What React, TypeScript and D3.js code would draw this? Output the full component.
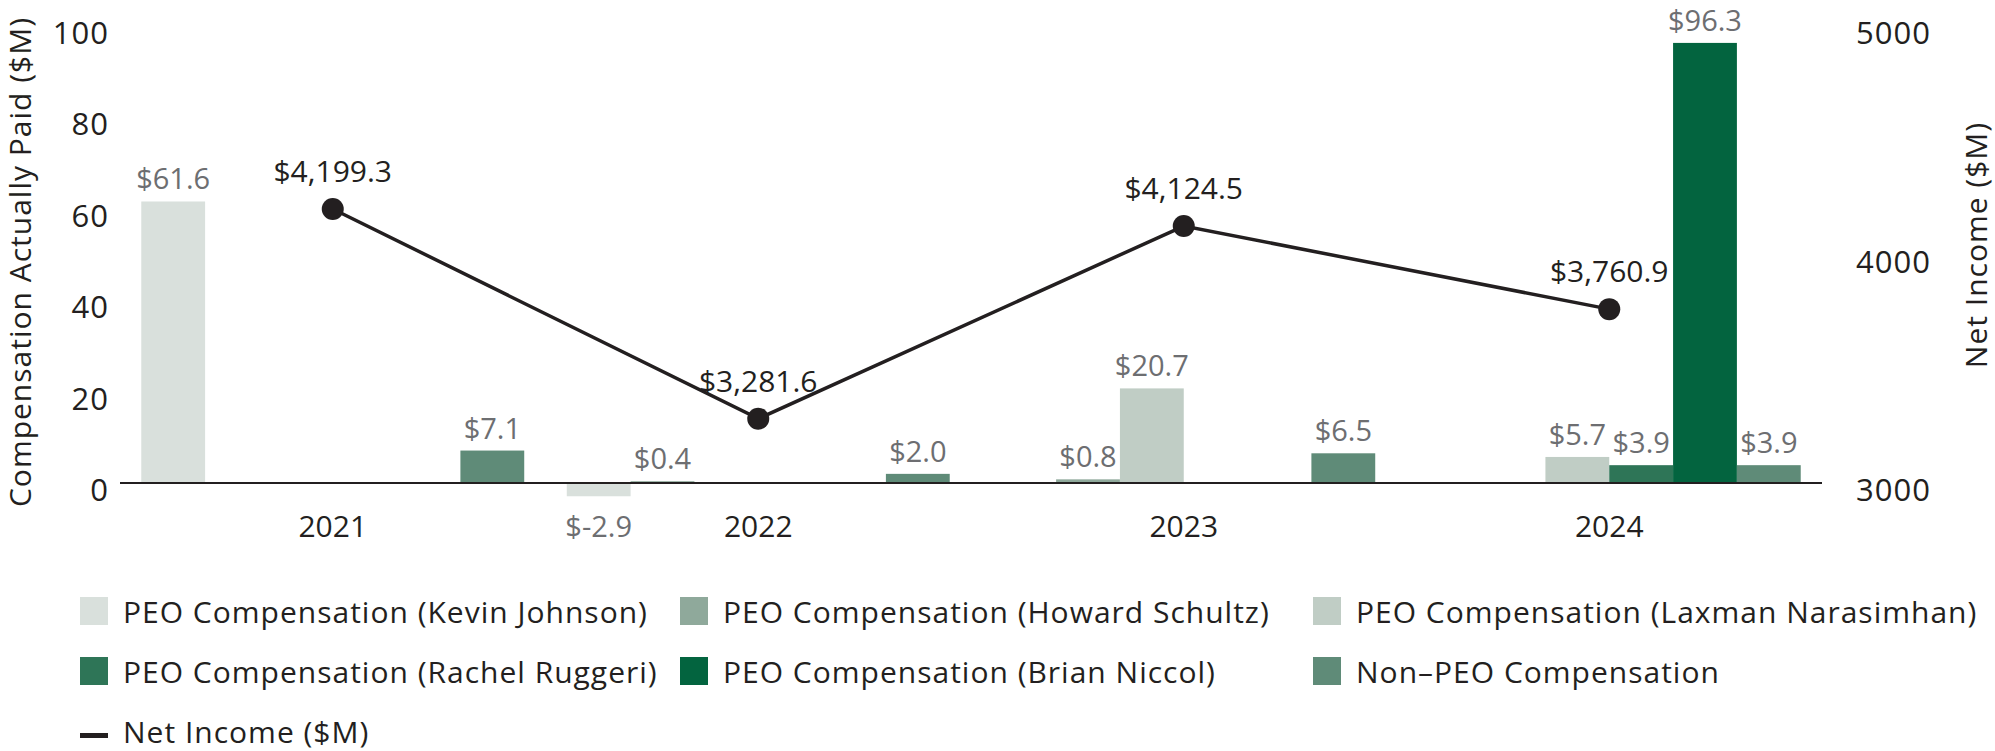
import * as d3 from "d3";

const years = ["2021", "2022", "2023", "2024"];

const seriesNames = [
  "PEO Compensation (Kevin Johnson)",
  "PEO Compensation (Howard Schultz)",
  "PEO Compensation (Laxman Narasimhan)",
  "PEO Compensation (Rachel Ruggeri)",
  "PEO Compensation (Brian Niccol)",
  "Non-PEO Compensation",
];
const seriesColors = ["#d9e0dc", "#8fa99b", "#c0cdc5", "#2e7557", "#03643f", "#5f8b78"];

const kevinJohnson = [61.6, -2.9, 0, 0];
const howardSchultz = [0, 0.4, 0.8, 0];
const laxmanNarasimhan = [0, 0, 20.7, 5.7];
const rachelRuggeri = [0, 0, 0, 3.9];
const brianNiccol = [0, 0, 0, 96.3];
const nonPeo = [7.1, 2.0, 6.5, 3.9];
const netIncome = [4199.3, 3281.6, 4124.5, 3760.9];

const leftTicks = [0, 20, 40, 60, 80, 100];
const rightTicks = [3000, 4000, 5000];

const seriesValues = [kevinJohnson, howardSchultz, laxmanNarasimhan, rachelRuggeri, brianNiccol, nonPeo];

const W = 1995;
const H = 751;
const FONT = "'Open Sans', 'Noto Sans', sans-serif";
const INK = "#231f20";
const GRAY = "#6d6e71";

export default function App() {
  const x = d3.scaleBand().domain(years).range([120, 1822]).paddingInner(0.1).paddingOuter(0.05);
  const xs = d3.scaleBand().domain(seriesNames).range([0, x.bandwidth()]);
  const y = d3.scaleLinear().domain([0, 100]).range([483, 26]);
  const yR = d3.scaleLinear().domain([3000, 5000]).range([483, 26]);
  const fmtBar = (v: number) => "$" + v.toFixed(1);
  const fmtNet = (v: number) => "$" + d3.format(",.1f")(v);

  const line = d3
    .line<number>()
    .x((_, i) => x(years[i])! + x.bandwidth() / 2)
    .y((d) => yR(d));

  // legend layout: 3 columns
  const legendCols = [80, 680, 1313];
  const legendRows = [623, 683, 743];

  return (
    <div style={{ position: "absolute", left: 0, top: 0 }}>
      <svg width={W} height={H} style={{ display: "block", fontFamily: FONT }}>
        <rect width={W} height={H} fill="#fff" />

        {/* bars */}
        {seriesValues.map((vals, si) =>
          vals.map((v, yi) => {
            const bx = x(years[yi])! + xs(seriesNames[si])!;
            const top = y(Math.max(0, v));
            const bottom = y(Math.min(0, v));
            return (
              <rect
                key={`b${si}-${yi}`}
                x={bx}
                y={top}
                width={xs.bandwidth()}
                height={bottom - top}
                fill={seriesColors[si]}
              />
            );
          })
        )}

        {/* baseline */}
        <line x1={120} x2={1822} y1={y(0)} y2={y(0)} stroke={INK} strokeWidth={2} />

        {/* bar labels */}
        {seriesValues.map((vals, si) =>
          vals.map((v, yi) => {
            if (v === 0) return null;
            const cx = x(years[yi])! + xs(seriesNames[si])! + xs.bandwidth() / 2;
            const ty = v > 0 ? y(v) - 12 : y(v) + 41;
            return (
              <text
                key={`l${si}-${yi}`}
                x={cx}
                y={ty}
                textAnchor="middle"
                fontSize={29}
                fill={GRAY}
              >
                {fmtBar(v)}
              </text>
            );
          })
        )}

        {/* net income line */}
        <path d={line(netIncome)!} fill="none" stroke={INK} strokeWidth={3.5} />
        {netIncome.map((v, i) => {
          const cx = x(years[i])! + x.bandwidth() / 2;
          return (
            <g key={`n${i}`}>
              <circle cx={cx} cy={yR(v)} r={11} fill={INK} />
              <text x={cx} y={yR(v) - 27} textAnchor="middle" fontSize={30} fill={INK}>
                {fmtNet(v)}
              </text>
            </g>
          );
        })}

        {/* left axis */}
        {leftTicks.map((t) => (
          <text
            key={`lt${t}`}
            x={109}
            y={y(t) + 18}
            textAnchor="end"
            fontSize={31}
            letterSpacing={1}
            fill={INK}
          >
            {t}
          </text>
        ))}
        <text
          transform={`translate(31,262) rotate(-90)`}
          textAnchor="middle"
          fontSize={30}
          letterSpacing={1}
          fill={INK}
        >
          Compensation Actually Paid ($M)
        </text>

        {/* right axis */}
        {rightTicks.map((t) => (
          <text
            key={`rt${t}`}
            x={1856}
            y={yR(t) + 18}
            textAnchor="start"
            fontSize={31}
            letterSpacing={1}
            fill={INK}
          >
            {t}
          </text>
        ))}
        <text
          transform={`translate(1987,245) rotate(-90)`}
          textAnchor="middle"
          fontSize={30}
          letterSpacing={1}
          fill={INK}
        >
          Net Income ($M)
        </text>

        {/* x axis labels */}
        {years.map((yr) => (
          <text
            key={`x${yr}`}
            x={x(yr)! + x.bandwidth() / 2}
            y={537}
            textAnchor="middle"
            fontSize={30}
            fill={INK}
          >
            {yr}
          </text>
        ))}

        {/* legend */}
        {seriesNames.map((name, i) => {
          const lx = legendCols[i % 3];
          const ly = legendRows[Math.floor(i / 3)];
          return (
            <g key={`lg${i}`}>
              <rect x={lx} y={ly - 26} width={28} height={28} fill={seriesColors[i]} />
              <text x={lx + 43} y={ly} fontSize={30} letterSpacing={1} fill={INK}>
                {name.replace("Non-PEO", "Non\u2013PEO")}
              </text>
            </g>
          );
        })}
        <rect x={legendCols[0]} y={legendRows[2] - 10} width={28} height={5} fill={INK} />
        <text x={legendCols[0] + 43} y={legendRows[2]} fontSize={30} letterSpacing={1} fill={INK}>
          Net Income ($M)
        </text>
      </svg>
    </div>
  );
}
